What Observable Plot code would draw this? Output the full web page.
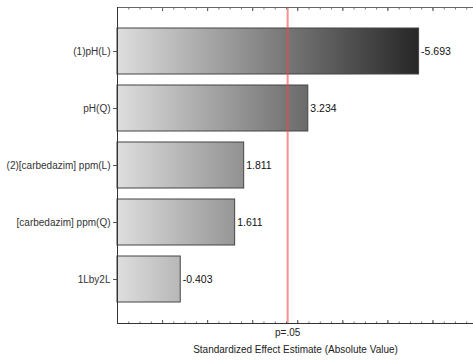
<!DOCTYPE html>
<html>
<head>
<meta charset="utf-8">
<script src="https://cdn.jsdelivr.net/npm/d3@7"></script>
<script src="https://cdn.jsdelivr.net/npm/@observablehq/plot@0.6"></script>
<style>
  html, body { margin: 0; padding: 0; background: white; overflow: hidden; }
</style>
</head>
<body>
<div id="chart"></div>
<script>
// Data
const effects = ["(1)pH(L)", "pH(Q)", "(2)[carbedazim] ppm(L)", "[carbedazim] ppm(Q)", "1Lby2L"];
const tValues = [-5.693, 3.234, 1.811, 1.611, -0.403];
const valueLabels = ["-5.693", "3.234", "1.811", "1.611", "-0.403"];
const pCritical = 2.776;
const pLabel = "p=.05";
const axisTitle = "Standardized Effect Estimate (Absolute Value)";
const xMin = -1;
const xMax = 6.9;
const majorTicks = d3.range(-1, 7, 1);
const minorTicks = d3.range(-1, 6.9, 0.25);

const rows = effects.map((e, i) => ({effect: e, t: tValues[i], abs: Math.abs(tValues[i]), label: valueLabels[i]}));

const fig = Plot.plot({
  width: 473,
  height: 360,
  marginLeft: 117,
  marginRight: 0,
  marginTop: 7,
  marginBottom: 37,
  style: {fontFamily: "Arial, 'Liberation Sans', sans-serif", fontSize: "10px", color: "#222", background: "white"},
  x: {domain: [xMin, xMax], axis: null},
  y: {domain: effects, paddingInner: 0.2, paddingOuter: 0.345, axis: null},
  marks: [
    Plot.barX(rows, {y: "effect", x1: xMin, x2: "abs", fill: "url(#barGrad)", stroke: "#444", strokeWidth: 1}),
    Plot.ruleX([pCritical], {stroke: "#f04848", strokeOpacity: 0.6, strokeWidth: 2}),
    Plot.text(rows, {y: "effect", x: "abs", text: "label", dx: 2, textAnchor: "start", fontSize: 10.5, fill: "#111"}),
    Plot.axisY({tickSize: 4, tickPadding: 3, fontSize: 10, label: null, color: "#333", stroke: "#555"}),
    Plot.axisX({anchor: "bottom", ticks: majorTicks, tickSize: -3, tickFormat: () => "", label: null, stroke: "#444"}),
    Plot.axisX({anchor: "bottom", ticks: minorTicks, tickSize: -1.5, tickFormat: () => "", label: null, stroke: "#777"}),
    Plot.axisX({anchor: "top", ticks: majorTicks, tickSize: -3, tickFormat: () => "", label: null, stroke: "#444"}),
    Plot.axisX({anchor: "top", ticks: minorTicks, tickSize: -1.5, tickFormat: () => "", label: null, stroke: "#777"}),
    Plot.frame({anchor: "top", stroke: "#666"}),
    Plot.frame({anchor: "left", stroke: "#333"}),
    Plot.frame({anchor: "bottom", stroke: "#333"}),
    Plot.text([pLabel], {x: pCritical, frameAnchor: "bottom", dy: 12, fontSize: 10, fill: "#222"}),
    Plot.text([axisTitle], {frameAnchor: "bottom", dy: 29, fontSize: 10, fill: "#222"})
  ]
});

// Gradient defined in scale (user) space so shading depends on x position
const xs = fig.scale("x");
const svg = d3.select(fig.tagName.toLowerCase() === "svg" ? fig : fig.querySelector("svg"));
const defs = svg.insert("defs", ":first-child");
const g = defs.append("linearGradient")
  .attr("id", "barGrad")
  .attr("gradientUnits", "userSpaceOnUse")
  .attr("x1", xs.apply(xMin)).attr("x2", xs.apply(d3.max(rows, d => d.abs)))
  .attr("y1", 0).attr("y2", 0);
g.append("stop").attr("offset", "0%").attr("stop-color", "#dedede");
g.append("stop").attr("offset", "100%").attr("stop-color", "#262626");

document.getElementById("chart").appendChild(fig);
</script>
</body>
</html>
